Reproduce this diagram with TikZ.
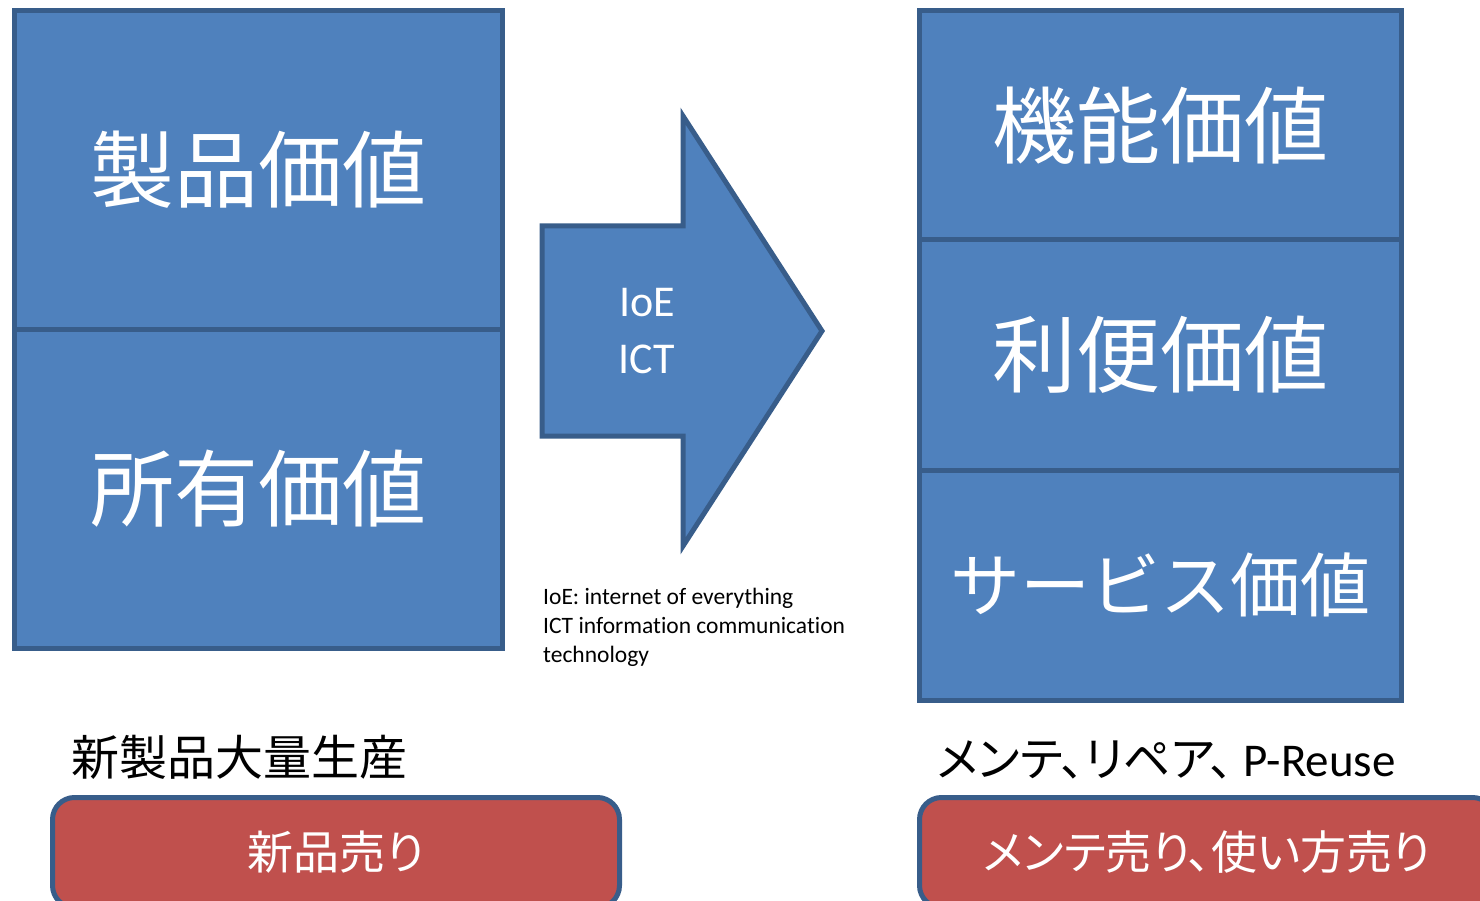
\documentclass[tikz,border=0pt]{standalone}
\usepackage{fontspec}
\setmainfont{Carlito}[Ligatures=NoCommon]
\newfontfamily\jp{Noto Sans CJK JP}
\newfontfamily\jppal{Noto Sans CJK JP}[RawFeature=+palt]
\definecolor{boxfill}{HTML}{4F81BD}
\definecolor{boxline}{HTML}{385D8A}
\definecolor{redfill}{HTML}{C0504D}
\tikzset{
  valbox/.style={draw=boxline, fill=boxfill, line width=5pt, inner sep=0pt, outer sep=0pt, text=white, font=\jp\fontsize{84}{90}\selectfont},
  sellbox/.style={draw=boxline, fill=redfill, line width=5pt, rounded corners=22pt, inner sep=0pt, outer sep=0pt, text=white, font=\jppal\fontsize{46}{50}\selectfont},
  label/.style={inner sep=0pt, anchor=west, text=black},
}
\begin{document}
\begin{tikzpicture}[x=1pt,y=-1pt]
\useasboundingbox (0,0) rectangle (1480,901);
\clip (0,0) rectangle (1480,901);
% left column
\node[valbox, minimum width=488pt, minimum height=318.5pt] (prod) at (258.5,169.75) {製品価値};
\node[valbox, minimum width=488pt, minimum height=319.5pt] (own) at (258.5,488.75) {所有価値};
% right column
\node[valbox, minimum width=482pt, minimum height=229.5pt] (func) at (1160.5,125.25) {機能価値};
\node[valbox, minimum width=482pt, minimum height=230pt] (conv) at (1160.5,355) {利便価値};
\node[valbox, minimum width=482pt, minimum height=230.5pt, font=\jp\fontsize{70}{80}\selectfont] (serv) at (1160.5,585.25) {サービス価値};
% arrow
\draw[draw=boxline, fill=boxfill, line width=5pt, line join=miter]
  (542,226) -- (683,226) -- (683,116) -- (822,331) -- (683,546) -- (683,436) -- (542,436) -- cycle;
\node[text=white, font=\fontsize{44}{57}\selectfont, align=center, inner sep=0pt] (ioe) at (647,331) {IoE\\ICT};
% note
\node[inner sep=0pt, anchor=north west, align=left, font=\fontsize{23.5}{29}\selectfont] (note) at (543,588)
  {IoE: internet of everything\\ICT information communication\\technology};
% bottom labels
\node[label, font=\jp\fontsize{48}{52}\selectfont] (mass) at (71,757) {新製品大量生産};
\node[label, font=\fontsize{47}{52}\selectfont] (maint) at (937,760) {{\jppal メンテ、リペア、}\hspace{10pt}P-Reuse};
% red boxes
\node[sellbox, minimum width=567pt, minimum height=110pt] (sellnew) at (336,852.5) {新品売り};
\node[sellbox, minimum width=575pt, minimum height=110pt] (sellmaint) at (1207,852.5) {メンテ売り、使い方売り};
\end{tikzpicture}
\end{document}
